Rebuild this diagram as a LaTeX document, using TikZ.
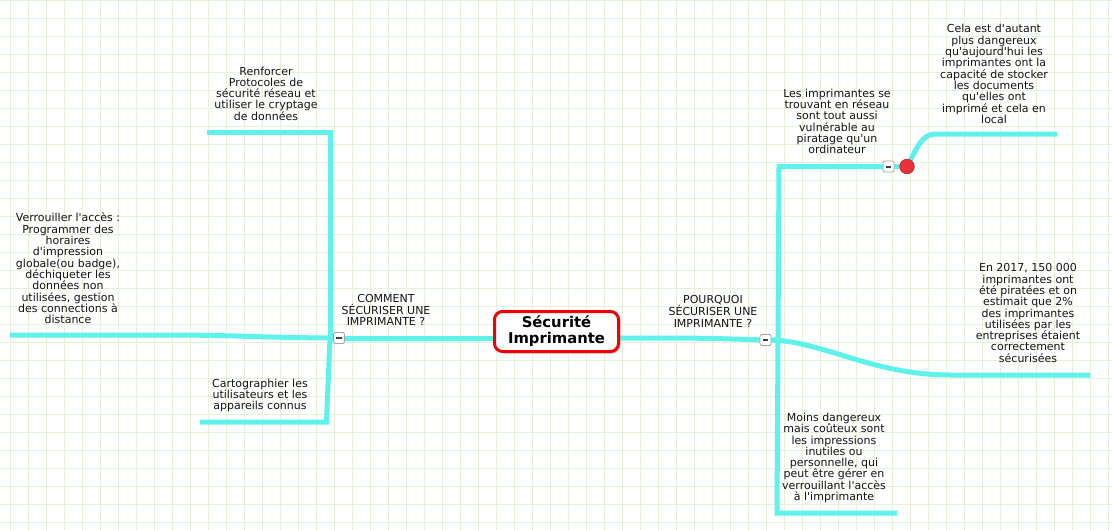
\documentclass[tikz,border=0pt]{standalone}
\usepackage{fontspec}
\setmainfont{DejaVu Sans}[Ligatures=TeXOff]
\usetikzlibrary{shadows}
\definecolor{gridc}{RGB}{230,241,220}
\definecolor{linkc}{RGB}{94,242,234}
\definecolor{txtc}{RGB}{20,20,20}
\definecolor{redb}{RGB}{240,0,0}
\definecolor{dotc}{RGB}{232,50,55}
\pgfdeclarelayer{bg}
\pgfsetlayers{bg,main}
\begin{document}
\begin{tikzpicture}[x=1pt,y=-1pt,
  lbl/.style={font=\fontsize{11}{11.3}\selectfont, text=txtc, align=center, inner sep=0pt},
  link/.style={draw=linkc, line width=5pt},
  btn/.style={draw=black!35, fill=white, rounded corners=1.5pt, minimum size=11pt, inner sep=0pt, line width=0.8pt},
  central/.style={draw=redb, line width=3pt, fill=white, rounded corners=8pt, minimum width=124pt, minimum height=40pt, inner sep=0pt,
    font=\fontsize{14.8}{16}\selectfont\bfseries, align=center, text=black,
    drop shadow={shadow xshift=2pt, shadow yshift=-2pt, fill=black!35, opacity=0.6}},
  dot/.style={circle, fill=dotc, draw=dotc!80!black, line width=0.6pt, minimum size=14.6pt, inner sep=0pt}
]
\useasboundingbox (0,0) rectangle (1112,530);
% nodes
\node[central] (c) at (556.5,331.5) {Sécurité\\Imprimante};
\node[btn] (bl) at (339,338) {\color{black!75}\rule[-1pt]{5.5pt}{2pt}};
\node[btn] (br) at (765.5,340) {\color{black!75}\rule[-1pt]{5.5pt}{2pt}};
\node[btn] (bt) at (888.5,166.5) {\color{black!75}\rule[-1pt]{5.5pt}{2pt}};
\node[dot] (rc) at (907,166.5) {};

\node[lbl] (lc) at (386,310) {COMMENT\\SÉCURISER UNE\\IMPRIMANTE ?};
\node[lbl] (lp) at (713,311) {POURQUOI\\SÉCURISER UNE\\IMPRIMANTE ?};
\node[lbl] (t1) at (266,93.5) {Renforcer\\Protocoles de\\sécurité réseau et\\utiliser le cryptage\\de données};
\node[lbl] (t2) at (68,268.5) {Verrouiller l'accès :\\Programmer des\\horaires\\d'impression\\globale(ou badge),\\déchiqueter les\\données non\\utilisées, gestion\\des connections à\\distance};
\node[lbl] (t3) at (260,395.5) {Cartographier les\\utilisateurs et les\\appareils connus};
\node[lbl] (t4) at (837,121.5) {Les imprimantes se\\trouvant en réseau\\sont tout aussi\\vulnérable au\\piratage qu'un\\ordinateur};
\node[lbl] (t5) at (994,74) {Cela est d'autant\\plus dangereux\\qu'aujourd'hui les\\imprimantes ont la\\capacité de stocker\\les documents\\qu'elles ont\\imprimé et cela en\\local};
\node[lbl] (t6) at (1028,313) {En 2017, 150 000\\imprimantes ont\\été piratées et on\\estimait que 2\%\\des imprimantes\\utilisées par les\\entreprises étaient\\correctement\\sécurisées};
\node[lbl] (t7) at (834,458) {Moins dangereux\\mais coûteux sont\\les impressions\\inutiles ou\\personnelle, qui\\peut être gérer en\\verrouillant l'accès\\à l'imprimante};

% connector end points
\coordinate (jl) at (330,338);
\coordinate (lt) at (330,132);
\coordinate (ltE) at (207,132);
\coordinate (lmE) at (10,335);
\coordinate (lbC) at (326.5,422);
\coordinate (lbE) at (200,422);
\coordinate (jr) at (778,340);
\coordinate (rt) at (779,166.5);
\coordinate (rtE) at (1057,134);
\coordinate (rbC) at (777,513);
\coordinate (rbE) at (897,513);
\coordinate (rmE) at (1090,375);

\begin{pgfonlayer}{bg}
  \fill[white] (0,0) rectangle (1112,530);
  \foreach \i in {0,...,61} \draw[gridc, line width=1pt] (10.5+18*\i,0) -- (10.5+18*\i,530);
  \foreach \j in {0,...,29} \draw[gridc, line width=1pt] (0,0.3+18*\j) -- (1112,0.3+18*\j);
  % left side
  \draw[link] (c.west |- bl) -- (bl.center) -- (jl);
  \draw[link] (jl) -- (lt) -- (ltE);
  \draw[link] (jl) .. controls (260,337.5) and (230,335) .. (167,335) -- (lmE);
  \draw[link] (jl) -- (lbC) -- (lbE);
  % right side
  \draw[link] (c.east |- bl) .. controls (700,338) .. (br.center) -- (jr);
  \draw[link] (jr) -- (rt) -- (bt.center);
  \draw[link] (bt.center) -- (rc.center);
  \draw[link] (rc.center) .. controls (918,146) and (922,134) .. (936,134) -- (rtE);
  \draw[link] (jr) -- (rbC) -- (rbE);
  \draw[link] (br.center) .. controls (820,339) and (870,375) .. (950,375) -- (rmE);
\end{pgfonlayer}
\end{tikzpicture}
\end{document}
